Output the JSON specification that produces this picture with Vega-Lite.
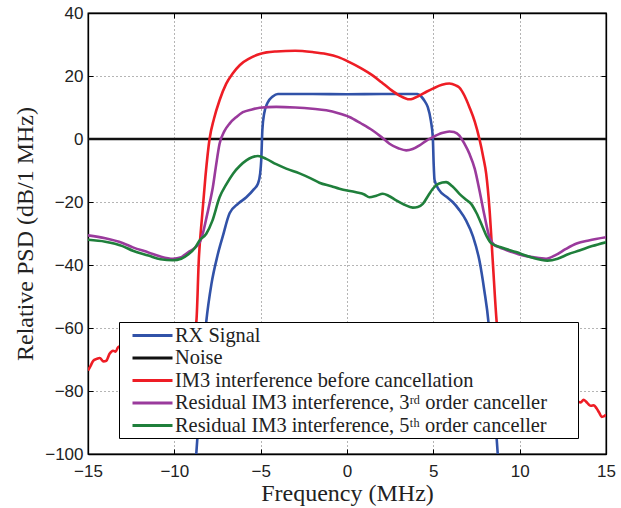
{
  "$schema": "https://vega.github.io/schema/vega-lite/v6.json",
  "width": 518,
  "height": 441,
  "autosize": {"type": "none"},
  "padding": {"left": 88, "top": 13, "right": 15, "bottom": 54},
  "background": "white",
  "config": {
    "view": {"stroke": "black", "strokeWidth": 1.3},
    "axis": {
      "domainColor": "black",
      "domainWidth": 1.3,
      "tickColor": "black",
      "tickSize": -5,
      "tickWidth": 1,
      "labelFont": "Liberation Sans",
      "labelFontSize": 17,
      "labelColor": "#222",
      "labelFlush": false,
      "labelOverlap": false,
      "titleFont": "Liberation Serif",
      "titleFontSize": 24,
      "titleFontWeight": "normal",
      "titleColor": "#222",
      "gridColor": "#444",
      "gridDash": [1, 3],
      "gridWidth": 0.8,
      "gridOpacity": 1
    }
  },
  "layer": [
    {
      "data": {"values": [
        {"s": "Noise", "f": -15, "p": 0},
        {"s": "Noise", "f": 15, "p": 0}
      ]},
      "mark": {"type": "line", "strokeWidth": 2.6, "clip": true},
      "encoding": {
        "x": {"field": "f", "type": "quantitative", "scale": {"domain": [-15, 15], "nice": false, "zero": false},
              "axis": {"orient": "top", "labels": false, "title": null, "grid": false, "values": [-15, -10, -5, 0, 5, 10, 15]}},
        "y": {"field": "p", "type": "quantitative", "scale": {"domain": [-100, 40], "nice": false, "zero": false},
              "axis": {"orient": "right", "labels": false, "title": null, "grid": false, "values": [-100, -80, -60, -40, -20, 0, 20, 40]}},
        "color": {"field": "s", "type": "nominal",
                  "scale": {"domain": ["RX Signal", "Noise", "IM3 interference before cancellation", "Residual IM3 interference, 3ʳᵈ order canceller", "Residual IM3 interference, 5ᵗʰ order canceller"],
                            "range": ["#3152a8", "#111111", "#ee1d25", "#9a3a9c", "#1f7f3b"]},
                  "legend": {"orient": "none", "legendX": 31, "legendY": 309, "title": " ", "titleOrient": "right", "titlePadding": 29, "titleFontSize": 8,
                             "fillColor": "white", "strokeColor": "black", "padding": 2,
                             "symbolType": "M-1,0H3", "symbolSize": 400, "symbolStrokeWidth": 3, "symbolOffset": 10,
                             "labelFont": "Liberation Serif", "labelFontSize": 20.4, "labelColor": "#222",
                             "labelOffset": 21, "labelLimit": 600, "rowPadding": 0.5}}
      }
    },
    {
      "data": {"values": [
        {"s": "RX Signal", "f": -8.8, "p": -106},
        {"s": "RX Signal", "f": -8.73, "p": -100},
        {"s": "RX Signal", "f": -8.45, "p": -78},
        {"s": "RX Signal", "f": -8.15, "p": -58},
        {"s": "RX Signal", "f": -7.85, "p": -46},
        {"s": "RX Signal", "f": -7.5, "p": -37},
        {"s": "RX Signal", "f": -7.2, "p": -31},
        {"s": "RX Signal", "f": -6.8, "p": -23.6},
        {"s": "RX Signal", "f": -6.3, "p": -20.5},
        {"s": "RX Signal", "f": -5.83, "p": -18.5},
        {"s": "RX Signal", "f": -5.4, "p": -16},
        {"s": "RX Signal", "f": -5.16, "p": -14.2},
        {"s": "RX Signal", "f": -5.03, "p": -11},
        {"s": "RX Signal", "f": -4.97, "p": -7},
        {"s": "RX Signal", "f": -4.9, "p": 3},
        {"s": "RX Signal", "f": -4.8, "p": 8},
        {"s": "RX Signal", "f": -4.6, "p": 11.5},
        {"s": "RX Signal", "f": -4.3, "p": 13.5},
        {"s": "RX Signal", "f": -4.0, "p": 14.3},
        {"s": "RX Signal", "f": -2.0, "p": 14.3},
        {"s": "RX Signal", "f": 0.0, "p": 14.2},
        {"s": "RX Signal", "f": 2.0, "p": 14.3},
        {"s": "RX Signal", "f": 4.08, "p": 14.3},
        {"s": "RX Signal", "f": 4.3, "p": 13.5},
        {"s": "RX Signal", "f": 4.5, "p": 12},
        {"s": "RX Signal", "f": 4.68, "p": 10.1},
        {"s": "RX Signal", "f": 4.85, "p": 6},
        {"s": "RX Signal", "f": 4.97, "p": 0.5},
        {"s": "RX Signal", "f": 5.02, "p": -8},
        {"s": "RX Signal", "f": 5.07, "p": -13},
        {"s": "RX Signal", "f": 5.35, "p": -16.3},
        {"s": "RX Signal", "f": 5.8, "p": -18.5},
        {"s": "RX Signal", "f": 6.12, "p": -20},
        {"s": "RX Signal", "f": 6.5, "p": -22.5},
        {"s": "RX Signal", "f": 6.9, "p": -25.9},
        {"s": "RX Signal", "f": 7.3, "p": -31},
        {"s": "RX Signal", "f": 7.67, "p": -38.6},
        {"s": "RX Signal", "f": 7.95, "p": -48},
        {"s": "RX Signal", "f": 8.19, "p": -58},
        {"s": "RX Signal", "f": 8.45, "p": -78},
        {"s": "RX Signal", "f": 8.73, "p": -100},
        {"s": "RX Signal", "f": 8.8, "p": -106},

        {"s": "IM3 interference before cancellation", "f": -15, "p": -73.5},
        {"s": "IM3 interference before cancellation", "f": -14.85, "p": -72},
        {"s": "IM3 interference before cancellation", "f": -14.7, "p": -70.4},
        {"s": "IM3 interference before cancellation", "f": -14.5, "p": -69.8},
        {"s": "IM3 interference before cancellation", "f": -14.32, "p": -69.5},
        {"s": "IM3 interference before cancellation", "f": -14.1, "p": -70.6},
        {"s": "IM3 interference before cancellation", "f": -13.94, "p": -70.4},
        {"s": "IM3 interference before cancellation", "f": -13.75, "p": -68.2},
        {"s": "IM3 interference before cancellation", "f": -13.55, "p": -67.2},
        {"s": "IM3 interference before cancellation", "f": -13.4, "p": -67.5},
        {"s": "IM3 interference before cancellation", "f": -13.26, "p": -66.1},
        {"s": "IM3 interference before cancellation", "f": -12.5, "p": -64.5},
        {"s": "IM3 interference before cancellation", "f": -11.5, "p": -63.5},
        {"s": "IM3 interference before cancellation", "f": -10.5, "p": -62.5},
        {"s": "IM3 interference before cancellation", "f": -9.5, "p": -62},
        {"s": "IM3 interference before cancellation", "f": -8.9, "p": -61},
        {"s": "IM3 interference before cancellation", "f": -8.73, "p": -58.2},
        {"s": "IM3 interference before cancellation", "f": -8.58, "p": -38},
        {"s": "IM3 interference before cancellation", "f": -8.4, "p": -25},
        {"s": "IM3 interference before cancellation", "f": -8.2, "p": -12},
        {"s": "IM3 interference before cancellation", "f": -7.96, "p": 0},
        {"s": "IM3 interference before cancellation", "f": -7.7, "p": 6.5},
        {"s": "IM3 interference before cancellation", "f": -7.38, "p": 12.3},
        {"s": "IM3 interference before cancellation", "f": -7.0, "p": 17.5},
        {"s": "IM3 interference before cancellation", "f": -6.62, "p": 20.8},
        {"s": "IM3 interference before cancellation", "f": -6.2, "p": 23.5},
        {"s": "IM3 interference before cancellation", "f": -5.64, "p": 25.6},
        {"s": "IM3 interference before cancellation", "f": -5.1, "p": 26.9},
        {"s": "IM3 interference before cancellation", "f": -4.66, "p": 27.5},
        {"s": "IM3 interference before cancellation", "f": -4.1, "p": 27.8},
        {"s": "IM3 interference before cancellation", "f": -3.0, "p": 28},
        {"s": "IM3 interference before cancellation", "f": -2.0, "p": 27.6},
        {"s": "IM3 interference before cancellation", "f": -1.2, "p": 27},
        {"s": "IM3 interference before cancellation", "f": -0.5, "p": 26},
        {"s": "IM3 interference before cancellation", "f": 0.14, "p": 24.4},
        {"s": "IM3 interference before cancellation", "f": 0.8, "p": 22.5},
        {"s": "IM3 interference before cancellation", "f": 1.48, "p": 20.2},
        {"s": "IM3 interference before cancellation", "f": 2.0, "p": 18},
        {"s": "IM3 interference before cancellation", "f": 2.5, "p": 15.8},
        {"s": "IM3 interference before cancellation", "f": 3.04, "p": 13.8},
        {"s": "IM3 interference before cancellation", "f": 3.62, "p": 12.6},
        {"s": "IM3 interference before cancellation", "f": 4.2, "p": 13.8},
        {"s": "IM3 interference before cancellation", "f": 4.6, "p": 15},
        {"s": "IM3 interference before cancellation", "f": 4.97, "p": 16},
        {"s": "IM3 interference before cancellation", "f": 5.5, "p": 17.2},
        {"s": "IM3 interference before cancellation", "f": 5.93, "p": 17.6},
        {"s": "IM3 interference before cancellation", "f": 6.3, "p": 17},
        {"s": "IM3 interference before cancellation", "f": 6.51, "p": 16.3},
        {"s": "IM3 interference before cancellation", "f": 6.8, "p": 13.8},
        {"s": "IM3 interference before cancellation", "f": 7.09, "p": 10.1},
        {"s": "IM3 interference before cancellation", "f": 7.4, "p": 5.5},
        {"s": "IM3 interference before cancellation", "f": 7.67, "p": 0},
        {"s": "IM3 interference before cancellation", "f": 7.9, "p": -6},
        {"s": "IM3 interference before cancellation", "f": 8.06, "p": -11},
        {"s": "IM3 interference before cancellation", "f": 8.25, "p": -22},
        {"s": "IM3 interference before cancellation", "f": 8.44, "p": -38.6},
        {"s": "IM3 interference before cancellation", "f": 8.67, "p": -58.2},
        {"s": "IM3 interference before cancellation", "f": 9.0, "p": -70},
        {"s": "IM3 interference before cancellation", "f": 10.0, "p": -78},
        {"s": "IM3 interference before cancellation", "f": 11.0, "p": -80},
        {"s": "IM3 interference before cancellation", "f": 12.0, "p": -82},
        {"s": "IM3 interference before cancellation", "f": 13.0, "p": -83},
        {"s": "IM3 interference before cancellation", "f": 13.55, "p": -83.6},
        {"s": "IM3 interference before cancellation", "f": 13.7, "p": -82.8},
        {"s": "IM3 interference before cancellation", "f": 13.85, "p": -83.4},
        {"s": "IM3 interference before cancellation", "f": 14.0, "p": -84.3},
        {"s": "IM3 interference before cancellation", "f": 14.13, "p": -84.7},
        {"s": "IM3 interference before cancellation", "f": 14.3, "p": -84.5},
        {"s": "IM3 interference before cancellation", "f": 14.45, "p": -85.5},
        {"s": "IM3 interference before cancellation", "f": 14.6, "p": -86.8},
        {"s": "IM3 interference before cancellation", "f": 14.75, "p": -88.2},
        {"s": "IM3 interference before cancellation", "f": 14.9, "p": -88},
        {"s": "IM3 interference before cancellation", "f": 15, "p": -87.5},

        {"s": "Residual IM3 interference, 3ʳᵈ order canceller", "f": -15, "p": -30.6},
        {"s": "Residual IM3 interference, 3ʳᵈ order canceller", "f": -14, "p": -31.5},
        {"s": "Residual IM3 interference, 3ʳᵈ order canceller", "f": -13, "p": -33},
        {"s": "Residual IM3 interference, 3ʳᵈ order canceller", "f": -12.4, "p": -34.4},
        {"s": "Residual IM3 interference, 3ʳᵈ order canceller", "f": -11.5, "p": -36},
        {"s": "Residual IM3 interference, 3ʳᵈ order canceller", "f": -10.8, "p": -37.3},
        {"s": "Residual IM3 interference, 3ʳᵈ order canceller", "f": -10.08, "p": -38},
        {"s": "Residual IM3 interference, 3ʳᵈ order canceller", "f": -9.6, "p": -37.5},
        {"s": "Residual IM3 interference, 3ʳᵈ order canceller", "f": -9.2, "p": -36},
        {"s": "Residual IM3 interference, 3ʳᵈ order canceller", "f": -8.8, "p": -34.5},
        {"s": "Residual IM3 interference, 3ʳᵈ order canceller", "f": -8.5, "p": -32.5},
        {"s": "Residual IM3 interference, 3ʳᵈ order canceller", "f": -8.35, "p": -30},
        {"s": "Residual IM3 interference, 3ʳᵈ order canceller", "f": -8.1, "p": -24},
        {"s": "Residual IM3 interference, 3ʳᵈ order canceller", "f": -7.9, "p": -19},
        {"s": "Residual IM3 interference, 3ʳᵈ order canceller", "f": -7.77, "p": -15.3},
        {"s": "Residual IM3 interference, 3ʳᵈ order canceller", "f": -7.6, "p": -9},
        {"s": "Residual IM3 interference, 3ʳᵈ order canceller", "f": -7.38, "p": -1.5},
        {"s": "Residual IM3 interference, 3ʳᵈ order canceller", "f": -7.1, "p": 2.5},
        {"s": "Residual IM3 interference, 3ʳᵈ order canceller", "f": -6.8, "p": 4.9},
        {"s": "Residual IM3 interference, 3ʳᵈ order canceller", "f": -6.4, "p": 7},
        {"s": "Residual IM3 interference, 3ʳᵈ order canceller", "f": -6.03, "p": 8.5},
        {"s": "Residual IM3 interference, 3ʳᵈ order canceller", "f": -5.5, "p": 9.4},
        {"s": "Residual IM3 interference, 3ʳᵈ order canceller", "f": -5.06, "p": 9.9},
        {"s": "Residual IM3 interference, 3ʳᵈ order canceller", "f": -4.1, "p": 10.2},
        {"s": "Residual IM3 interference, 3ʳᵈ order canceller", "f": -3.0, "p": 10},
        {"s": "Residual IM3 interference, 3ʳᵈ order canceller", "f": -2.0, "p": 9.6},
        {"s": "Residual IM3 interference, 3ʳᵈ order canceller", "f": -1.2, "p": 9.1},
        {"s": "Residual IM3 interference, 3ʳᵈ order canceller", "f": -0.5, "p": 8.2},
        {"s": "Residual IM3 interference, 3ʳᵈ order canceller", "f": 0.14, "p": 7},
        {"s": "Residual IM3 interference, 3ʳᵈ order canceller", "f": 0.8, "p": 5},
        {"s": "Residual IM3 interference, 3ʳᵈ order canceller", "f": 1.49, "p": 2.7},
        {"s": "Residual IM3 interference, 3ʳᵈ order canceller", "f": 2.0, "p": 0.6},
        {"s": "Residual IM3 interference, 3ʳᵈ order canceller", "f": 2.46, "p": -1.5},
        {"s": "Residual IM3 interference, 3ʳᵈ order canceller", "f": 3.0, "p": -3},
        {"s": "Residual IM3 interference, 3ʳᵈ order canceller", "f": 3.43, "p": -3.6},
        {"s": "Residual IM3 interference, 3ʳᵈ order canceller", "f": 3.8, "p": -3.2},
        {"s": "Residual IM3 interference, 3ʳᵈ order canceller", "f": 4.2, "p": -2},
        {"s": "Residual IM3 interference, 3ʳᵈ order canceller", "f": 4.6, "p": -0.5},
        {"s": "Residual IM3 interference, 3ʳᵈ order canceller", "f": 4.97, "p": 0.6},
        {"s": "Residual IM3 interference, 3ʳᵈ order canceller", "f": 5.5, "p": 1.9},
        {"s": "Residual IM3 interference, 3ʳᵈ order canceller", "f": 5.93, "p": 2.4},
        {"s": "Residual IM3 interference, 3ʳᵈ order canceller", "f": 6.2, "p": 2.2},
        {"s": "Residual IM3 interference, 3ʳᵈ order canceller", "f": 6.51, "p": 1.1},
        {"s": "Residual IM3 interference, 3ʳᵈ order canceller", "f": 6.8, "p": -1.5},
        {"s": "Residual IM3 interference, 3ʳᵈ order canceller", "f": 7.09, "p": -4.7},
        {"s": "Residual IM3 interference, 3ʳᵈ order canceller", "f": 7.4, "p": -9.5},
        {"s": "Residual IM3 interference, 3ʳᵈ order canceller", "f": 7.67, "p": -16.3},
        {"s": "Residual IM3 interference, 3ʳᵈ order canceller", "f": 7.95, "p": -24},
        {"s": "Residual IM3 interference, 3ʳᵈ order canceller", "f": 8.25, "p": -31.2},
        {"s": "Residual IM3 interference, 3ʳᵈ order canceller", "f": 8.5, "p": -33.5},
        {"s": "Residual IM3 interference, 3ʳᵈ order canceller", "f": 8.83, "p": -34.4},
        {"s": "Residual IM3 interference, 3ʳᵈ order canceller", "f": 9.5, "p": -35.8},
        {"s": "Residual IM3 interference, 3ʳᵈ order canceller", "f": 10.2, "p": -37},
        {"s": "Residual IM3 interference, 3ʳᵈ order canceller", "f": 10.75, "p": -37.5},
        {"s": "Residual IM3 interference, 3ʳᵈ order canceller", "f": 11.53, "p": -38},
        {"s": "Residual IM3 interference, 3ʳᵈ order canceller", "f": 12.1, "p": -36.8},
        {"s": "Residual IM3 interference, 3ʳᵈ order canceller", "f": 12.68, "p": -34.9},
        {"s": "Residual IM3 interference, 3ʳᵈ order canceller", "f": 13.3, "p": -33.2},
        {"s": "Residual IM3 interference, 3ʳᵈ order canceller", "f": 14, "p": -32.2},
        {"s": "Residual IM3 interference, 3ʳᵈ order canceller", "f": 15, "p": -31.2},

        {"s": "Residual IM3 interference, 5ᵗʰ order canceller", "f": -15, "p": -32},
        {"s": "Residual IM3 interference, 5ᵗʰ order canceller", "f": -14, "p": -32.6},
        {"s": "Residual IM3 interference, 5ᵗʰ order canceller", "f": -13, "p": -34},
        {"s": "Residual IM3 interference, 5ᵗʰ order canceller", "f": -12.4, "p": -35.5},
        {"s": "Residual IM3 interference, 5ᵗʰ order canceller", "f": -11.5, "p": -37},
        {"s": "Residual IM3 interference, 5ᵗʰ order canceller", "f": -10.8, "p": -38.2},
        {"s": "Residual IM3 interference, 5ᵗʰ order canceller", "f": -10.08, "p": -38.5},
        {"s": "Residual IM3 interference, 5ᵗʰ order canceller", "f": -9.6, "p": -38},
        {"s": "Residual IM3 interference, 5ᵗʰ order canceller", "f": -9.2, "p": -36.7},
        {"s": "Residual IM3 interference, 5ᵗʰ order canceller", "f": -8.8, "p": -34.5},
        {"s": "Residual IM3 interference, 5ᵗʰ order canceller", "f": -8.54, "p": -32.2},
        {"s": "Residual IM3 interference, 5ᵗʰ order canceller", "f": -8.15, "p": -30.1},
        {"s": "Residual IM3 interference, 5ᵗʰ order canceller", "f": -7.8, "p": -26},
        {"s": "Residual IM3 interference, 5ᵗʰ order canceller", "f": -7.38, "p": -18.5},
        {"s": "Residual IM3 interference, 5ᵗʰ order canceller", "f": -7.0, "p": -14.5},
        {"s": "Residual IM3 interference, 5ᵗʰ order canceller", "f": -6.6, "p": -11},
        {"s": "Residual IM3 interference, 5ᵗʰ order canceller", "f": -6.2, "p": -8.5},
        {"s": "Residual IM3 interference, 5ᵗʰ order canceller", "f": -5.83, "p": -6.8},
        {"s": "Residual IM3 interference, 5ᵗʰ order canceller", "f": -5.5, "p": -5.8},
        {"s": "Residual IM3 interference, 5ᵗʰ order canceller", "f": -5.16, "p": -5.4},
        {"s": "Residual IM3 interference, 5ᵗʰ order canceller", "f": -4.68, "p": -6.3},
        {"s": "Residual IM3 interference, 5ᵗʰ order canceller", "f": -4.1, "p": -8},
        {"s": "Residual IM3 interference, 5ᵗʰ order canceller", "f": -3.52, "p": -9.4},
        {"s": "Residual IM3 interference, 5ᵗʰ order canceller", "f": -2.75, "p": -10.9},
        {"s": "Residual IM3 interference, 5ᵗʰ order canceller", "f": -2.1, "p": -12.5},
        {"s": "Residual IM3 interference, 5ᵗʰ order canceller", "f": -1.6, "p": -13.9},
        {"s": "Residual IM3 interference, 5ᵗʰ order canceller", "f": -0.9, "p": -15},
        {"s": "Residual IM3 interference, 5ᵗʰ order canceller", "f": -0.44, "p": -15.8},
        {"s": "Residual IM3 interference, 5ᵗʰ order canceller", "f": 0.53, "p": -16.9},
        {"s": "Residual IM3 interference, 5ᵗʰ order canceller", "f": 1.0, "p": -17.6},
        {"s": "Residual IM3 interference, 5ᵗʰ order canceller", "f": 1.3, "p": -18.5},
        {"s": "Residual IM3 interference, 5ᵗʰ order canceller", "f": 1.7, "p": -18},
        {"s": "Residual IM3 interference, 5ᵗʰ order canceller", "f": 2.07, "p": -17.4},
        {"s": "Residual IM3 interference, 5ᵗʰ order canceller", "f": 2.4, "p": -18},
        {"s": "Residual IM3 interference, 5ᵗʰ order canceller", "f": 2.85, "p": -19.5},
        {"s": "Residual IM3 interference, 5ᵗʰ order canceller", "f": 3.3, "p": -20.8},
        {"s": "Residual IM3 interference, 5ᵗʰ order canceller", "f": 3.81, "p": -21.8},
        {"s": "Residual IM3 interference, 5ᵗʰ order canceller", "f": 4.1, "p": -21.6},
        {"s": "Residual IM3 interference, 5ᵗʰ order canceller", "f": 4.39, "p": -20.6},
        {"s": "Residual IM3 interference, 5ᵗʰ order canceller", "f": 4.7, "p": -18},
        {"s": "Residual IM3 interference, 5ᵗʰ order canceller", "f": 4.97, "p": -15.8},
        {"s": "Residual IM3 interference, 5ᵗʰ order canceller", "f": 5.3, "p": -14.2},
        {"s": "Residual IM3 interference, 5ᵗʰ order canceller", "f": 5.74, "p": -13.7},
        {"s": "Residual IM3 interference, 5ᵗʰ order canceller", "f": 6.1, "p": -15},
        {"s": "Residual IM3 interference, 5ᵗʰ order canceller", "f": 6.51, "p": -17.4},
        {"s": "Residual IM3 interference, 5ᵗʰ order canceller", "f": 6.9, "p": -19.3},
        {"s": "Residual IM3 interference, 5ᵗʰ order canceller", "f": 7.19, "p": -20.6},
        {"s": "Residual IM3 interference, 5ᵗʰ order canceller", "f": 7.5, "p": -23.5},
        {"s": "Residual IM3 interference, 5ᵗʰ order canceller", "f": 7.86, "p": -28},
        {"s": "Residual IM3 interference, 5ᵗʰ order canceller", "f": 8.1, "p": -31},
        {"s": "Residual IM3 interference, 5ᵗʰ order canceller", "f": 8.35, "p": -33.1},
        {"s": "Residual IM3 interference, 5ᵗʰ order canceller", "f": 9.0, "p": -34.5},
        {"s": "Residual IM3 interference, 5ᵗʰ order canceller", "f": 9.79, "p": -35.9},
        {"s": "Residual IM3 interference, 5ᵗʰ order canceller", "f": 10.7, "p": -37.6},
        {"s": "Residual IM3 interference, 5ᵗʰ order canceller", "f": 11.6, "p": -38.6},
        {"s": "Residual IM3 interference, 5ᵗʰ order canceller", "f": 12.2, "p": -38},
        {"s": "Residual IM3 interference, 5ᵗʰ order canceller", "f": 12.8, "p": -36.6},
        {"s": "Residual IM3 interference, 5ᵗʰ order canceller", "f": 13.46, "p": -35.4},
        {"s": "Residual IM3 interference, 5ᵗʰ order canceller", "f": 14.2, "p": -34},
        {"s": "Residual IM3 interference, 5ᵗʰ order canceller", "f": 15, "p": -32.8}
      ]},
      "mark": {"type": "line", "strokeWidth": 2.6, "clip": true, "interpolate": "monotone"},
      "encoding": {
        "x": {"field": "f", "type": "quantitative", "scale": {"domain": [-15, 15], "nice": false, "zero": false},
              "axis": {"orient": "bottom", "title": "Frequency (MHz)", "titleFont": "Liberation Serif", "titleFontSize": 24, "titleFontWeight": "normal", "grid": true, "values": [-15, -10, -5, 0, 5, 10, 15], "labelPadding": 14, "titlePadding": 2, "labelFlush": false}},
        "y": {"field": "p", "type": "quantitative", "scale": {"domain": [-100, 40], "nice": false, "zero": false},
              "axis": {"orient": "left", "title": "Relative PSD (dB/1 MHz)", "titleFont": "Liberation Serif", "titleFontSize": 24, "titleFontWeight": "normal", "grid": true, "values": [-100, -80, -60, -40, -20, 0, 20, 40], "labelPadding": 10, "titlePadding": 7, "labelFlush": false}},
        "color": {"field": "s", "type": "nominal"}
      }
    }
  ],
  "resolve": {"axis": {"x": "independent", "y": "independent"}}
}
